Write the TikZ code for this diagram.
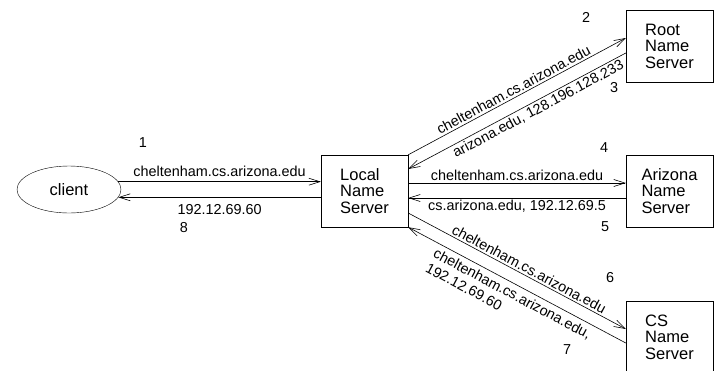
\documentclass[tikz,border=0pt]{standalone}
\usepackage{fontspec}
\setmainfont{Liberation Sans}
\usetikzlibrary{calc}
\usetikzlibrary{shapes.geometric}
\usetikzlibrary{arrows.meta}
\tikzstyle{server} = [draw, rectangle, minimum width=87pt, minimum height=72pt,
align=left, inner sep=0pt, font=\fontsize{16.5}{16.5}\selectfont]
\tikzstyle{host} = [draw, ellipse, minimum width=104pt, minimum height=47pt, inner sep=0pt,
font=\fontsize{16.5}{16.5}\selectfont]
\tikzstyle{msg} = [-{Straight Barb[length=11pt,width=7pt]}, line width=0.6pt]
\tikzstyle{lbl} = [inner sep=2pt]
\tikzstyle{stepno} = [inner sep=0pt]

\begin{document}
\begin{tikzpicture}[x=1pt, y=-1pt, font=\fontsize{14.4}{16.5}\selectfont]
        \useasboundingbox (0,0) rectangle (717,370);
        \node [host] (client) at (69,189.5) {client};
        \node [server] (local) at (364.5,191) {Local\\Name\\Server};
        \node [server] (root) at (669.5,46) {Root\\Name\\Server};
        \node [server] (arizona) at (669.5,191) {Arizona\\Name\\Server};
        \node [server] (cs) at (669.5,337) {CS\\Name\\Server};

        \draw [msg] (client.9) -- node[lbl, above=3pt] {cheltenham.cs.arizona.edu} (client.9 -| local.west);
        \draw [msg] (local.west |- client.-9) -- node[lbl, below=5pt] {192.12.69.60} (client.-9);

        \draw [msg] (local.north east) -- node[lbl, sloped, above] {cheltenham.cs.arizona.edu} ($(root.west)+(0,-8)$);
        \draw [msg] ($(root.west)+(0,7)$) -- node[lbl, sloped, below, pos=0.42] {arizona.edu, 128.196.128.233} ($(local.east)+(0,-22)$);

        \draw [msg] ($(local.east)+(0,-8)$) -- node[lbl, above] {cheltenham.cs.arizona.edu} ($(arizona.west)+(0,-8)$);
        \draw [msg] ($(arizona.west)+(0,7)$) -- node[lbl, below] {cs.arizona.edu, 192.12.69.5} ($(local.east)+(0,7)$);

        \draw [msg] ($(local.east)+(0,22)$) -- node[lbl, sloped, above, pos=0.54] {cheltenham.cs.arizona.edu} ($(cs.west)+(0,-8)$);
        \draw [msg] ($(cs.west)+(0,6)$) -- node[lbl, sloped, below, align=left, inner sep=4pt] {cheltenham.cs.arizona.edu,\\192.12.69.60} (local.south east);

        \node [stepno] (n1) at (143,143) {1};
        \node [stepno] (n2) at (586,17) {2};
        \node [stepno] (n3) at (614,88) {3};
        \node [stepno] (n4) at (604,148) {4};
        \node [stepno] (n5) at (605,227) {5};
        \node [stepno] (n6) at (610,278) {6};
        \node [stepno] (n7) at (567,350) {7};
        \node [stepno] (n8) at (184,228) {8};
    \end{tikzpicture}
\end{document}
